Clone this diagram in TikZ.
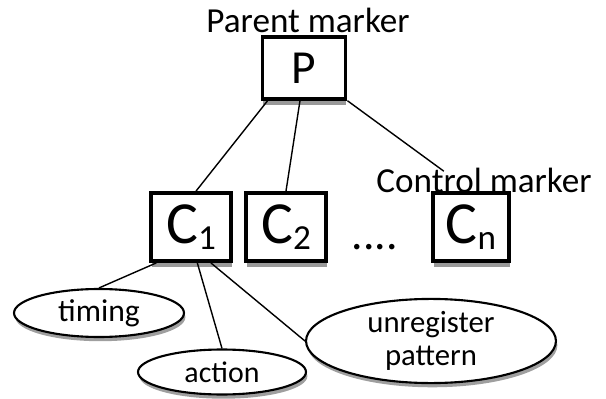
\documentclass[tikz,border=0pt]{standalone}
\usepackage{fontspec}
\setmainfont{Carlito}
\usepackage{tikz}
\usetikzlibrary{calc}
\usetikzlibrary{shapes.geometric}
\usetikzlibrary{shadows}
\tikzset{>=latex}
\tikzset{
	markerbox/.style={draw, line width=2.2pt, fill=white, inner sep=0pt,
		drop shadow={shadow xshift=0.4pt, shadow yshift=-3.4pt, fill=black!80}},
	fieldoval/.style={ellipse, draw, line width=1.2pt, fill=white, inner sep=0pt,
		drop shadow={shadow xshift=0.8pt, shadow yshift=-2.4pt, fill=black!75}},
	link/.style={line width=0.8pt}
}
\newcommand{\lowsub}[1]{\raisebox{-3pt}{\fontsize{20}{20}\selectfont #1}}

\begin{document}
\begin{tikzpicture}[x=0.02cm, y=-0.02cm]
		\useasboundingbox (0,0) rectangle (606,399);
		% parent and control markers
		\node[markerbox, minimum width=1.66cm, minimum height=1.24cm, font=\fontsize{27}{27}\selectfont] (P) at (304,68) {P};
		\node[markerbox, minimum width=1.6cm, minimum height=1.36cm, font=\fontsize{34}{34}\selectfont] (C1) at (191,227) {C\lowsub{1}};
		\node[markerbox, minimum width=1.6cm, minimum height=1.36cm, font=\fontsize{34}{34}\selectfont] (C2) at (286,227) {C\lowsub{2}};
		\node[markerbox, minimum width=1.52cm, minimum height=1.36cm, font=\fontsize{34}{34}\selectfont] (Cn) at (471,227) {C\lowsub{n}};
		\node[anchor=base, font=\fontsize{26}{26}\selectfont] (dots) at (375,249) {....};
		\node[anchor=base, inner sep=0pt, font=\fontsize{20}{20}\selectfont] (ptitle) at (308,32) {Parent marker};
		\node[anchor=base, inner sep=0pt, font=\fontsize{20}{20}\selectfont] (ctitle) at (484,192) {Control marker};
		% fields of C_1
		\node[fieldoval, minimum width=3.4cm, minimum height=0.96cm, font=\fontsize{18}{18}\selectfont] (timing) at (99,313) {timing};
		\node[fieldoval, minimum width=3.36cm, minimum height=0.9cm, font=\fontsize{17}{17}\selectfont] (action) at (222,372) {action};
		\node[fieldoval, minimum width=5cm, minimum height=1.5cm, font=\fontsize{17.5}{19}\selectfont, align=center] (unreg) at (431,341) {unregister\\pattern};
		\draw[link] (P.-138) -- (C1.82);
		\draw[link] (P.-97) -- (C2.north);
		\draw[link] (P.-37) -- ($(P.-37)!0.78!(Cn.north)$);
		\draw[link] (C1.-134) -- (timing.north);
		\draw[link] (C1.-80) -- (action.north);
		\draw[link] (C1.-61) -- (unreg.west);
	\end{tikzpicture}
\end{document}
